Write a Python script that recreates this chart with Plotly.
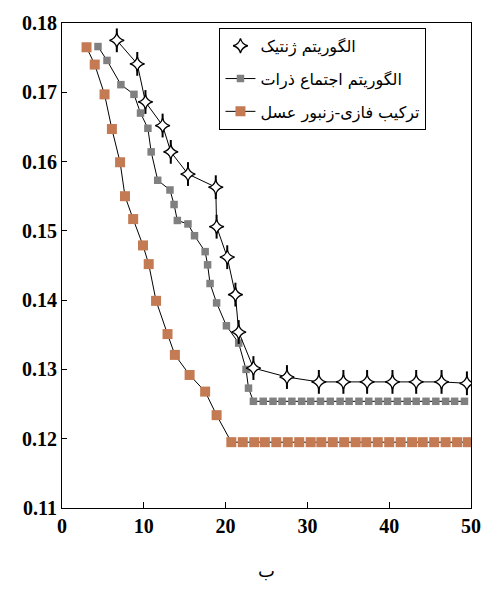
import plotly.graph_objects as go

# ---- data ----
names = ["الگوریتم ژنتیک", "الگوریتم اجتماع ذرات", "ترکیب فازی-زنبور عسل"]

ga_x = [6.7, 9.2, 10.2, 12.3, 13.3, 15.4, 18.8, 18.9, 20.2, 21.2, 21.6, 23.4,
        27.5, 31.4, 34.4, 37.3, 40.4, 43.3, 46.4, 49.5]
ga_y = [0.1775, 0.1741, 0.1686, 0.1652, 0.1614, 0.1582, 0.1563, 0.1506, 0.1462,
        0.1408, 0.1354, 0.1302, 0.1289, 0.1282, 0.1282, 0.1282, 0.1282, 0.1282,
        0.1282, 0.1280]

pso_x = [4.4, 5.5, 7.2, 8.8, 9.6, 10.5, 10.9, 11.7, 13.2, 13.7, 14.1, 15.4, 16.2,
         17.5, 17.8, 18.1, 18.9, 20.1, 21.6, 22.5, 22.8,
         23.4, 24.6, 25.8, 26.9, 28.1, 29.3, 30.4, 31.6, 32.8, 34.0, 35.1, 36.3,
         37.5, 38.7, 39.8, 41.0, 42.2, 43.3, 44.5, 45.7, 46.9, 48.0, 49.2]
pso_y = [0.1766, 0.1746, 0.1711, 0.1697, 0.1670, 0.1648, 0.1614, 0.1573, 0.1559,
         0.1538, 0.1515, 0.1510, 0.1493, 0.1470, 0.1451, 0.1424, 0.1396, 0.1363,
         0.1338, 0.1300, 0.1273,
         0.1254, 0.1254, 0.1254, 0.1254, 0.1254, 0.1254, 0.1254, 0.1254, 0.1254,
         0.1254, 0.1254, 0.1254, 0.1254, 0.1254, 0.1254, 0.1254, 0.1254, 0.1254,
         0.1254, 0.1254, 0.1254, 0.1254, 0.1254]

fb_x = [3.0, 4.0, 5.2, 6.1, 7.1, 7.7, 8.7, 9.9, 10.6, 11.5, 12.9, 13.8, 15.6,
        17.5, 18.9, 20.7, 22.1, 23.5, 24.8, 26.2, 27.6, 29.0, 30.4, 31.7, 33.1,
        34.5, 35.9, 37.2, 38.6, 40.0, 41.4, 42.8, 44.1, 45.5, 46.9, 48.3, 49.6]
fb_y = [0.1765, 0.1740, 0.1697, 0.1647, 0.1599, 0.1550, 0.1517, 0.1479, 0.1452,
        0.1399, 0.1351, 0.1321, 0.1292, 0.1268, 0.1234, 0.1195, 0.1195, 0.1195,
        0.1195, 0.1195, 0.1195, 0.1195, 0.1195, 0.1195, 0.1195, 0.1195, 0.1195,
        0.1195, 0.1195, 0.1195, 0.1195, 0.1195, 0.1195, 0.1195, 0.1195, 0.1195,
        0.1195]

x_ticks = [0, 10, 20, 30, 40, 50]
y_ticks = [0.11, 0.12, 0.13, 0.14, 0.15, 0.16, 0.17, 0.18]
x_title = "ب"

fig = go.Figure()

fig.add_trace(go.Scatter(
    x=fb_x, y=fb_y, name=names[2], mode="lines+markers", legendrank=3,
    legendgroup="c",
    line=dict(color="black", width=1),
    marker=dict(symbol="square", size=10, color="#C47A52",
                line=dict(width=0)),
))
fig.add_trace(go.Scatter(
    x=pso_x, y=pso_y, name=names[1], mode="lines+markers", legendrank=2,
    legendgroup="b",
    line=dict(color="black", width=1),
    marker=dict(symbol="square", size=7.5, color="#808080",
                line=dict(width=0)),
))
# vertical tips of the star markers (same points as the genetic series)
fig.add_trace(go.Scatter(
    x=ga_x, y=ga_y, mode="lines+markers", showlegend=False, hoverinfo="skip",
    legendgroup="a",
    line=dict(color="black", width=1),
    marker=dict(symbol="line-ns", size=17,
                line=dict(color="black", width=2)),
))
fig.add_trace(go.Scatter(
    x=ga_x, y=ga_y, name=names[0], mode="markers", legendrank=1,
    legendgroup="a",
    marker=dict(symbol="star-diamond", size=10.5, color="white",
                line=dict(color="black", width=1.3)),
))

tickfont = dict(family="Liberation Serif", size=20, color="black", weight="bold")

fig.update_layout(
    width=493, height=590,
    margin=dict(l=62, r=15, t=15, b=78),
    paper_bgcolor="white", plot_bgcolor="white",
    showlegend=True,
    legend=dict(
        x=0.385, y=0.99, xanchor="left", yanchor="top",
        bordercolor="black", borderwidth=1, bgcolor="white",
        font=dict(family="DejaVu Sans", size=16, color="black"),
        tracegroupgap=9, itemwidth=30,
    ),
    xaxis=dict(
        range=[0, 50], tickvals=x_ticks, ticks="inside", ticklen=6,
        tickcolor="black", showline=True, linecolor="black", linewidth=1,
        mirror=True, showgrid=False, zeroline=False, tickfont=tickfont,
        title=dict(text=x_title, font=dict(family="DejaVu Sans", size=18,
                                           color="black"), standoff=28),
    ),
    yaxis=dict(
        range=[0.11, 0.18], tickvals=y_ticks, tickformat=".2f",
        ticks="inside", ticklen=5, tickcolor="black", showline=True,
        linecolor="black", linewidth=1, mirror=True, showgrid=False,
        zeroline=False, tickfont=tickfont,
    ),
)

fig.write_html("out.html")
